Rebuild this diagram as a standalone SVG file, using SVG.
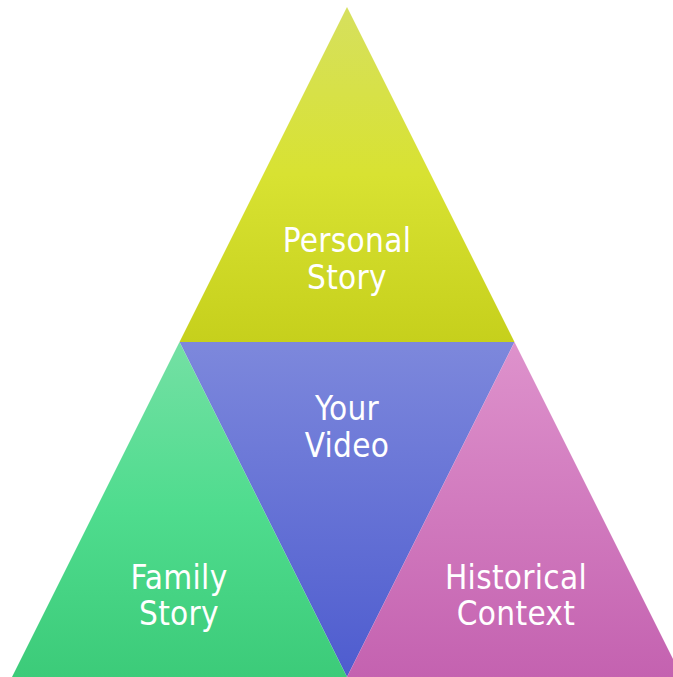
<svg xmlns="http://www.w3.org/2000/svg" width="673" height="677" viewBox="0 0 673 677">
<style>
.lbl{font-family:"DejaVu Sans Condensed","DejaVu Sans","Liberation Sans",sans-serif;font-stretch:condensed;font-size:33px;letter-spacing:0.3px;fill:#ffffff;text-anchor:middle}
</style>
<defs>
<linearGradient id="gTop" x1="0" y1="0" x2="0" y2="1"><stop offset="0" stop-color="#d6e05e"/><stop offset="0.5" stop-color="#d8e232"/><stop offset="1" stop-color="#c6d01c"/></linearGradient>
<linearGradient id="gMid" x1="0" y1="0" x2="0" y2="1"><stop offset="0" stop-color="#7d88dc"/><stop offset="1" stop-color="#4e5ccf"/></linearGradient>
<linearGradient id="gLeft" x1="0" y1="0" x2="0" y2="1"><stop offset="0" stop-color="#74e0a4"/><stop offset="0.5" stop-color="#4fdc8e"/><stop offset="1" stop-color="#3ccb79"/></linearGradient>
<linearGradient id="gRight" x1="0" y1="0" x2="0" y2="1"><stop offset="0" stop-color="#de92cc"/><stop offset="1" stop-color="#c462b0"/></linearGradient>
</defs>
<g id="personal-story">
<polygon points="347,7 514.5,342 179.5,342" fill="url(#gTop)"/>
<text class="lbl" x="347" y="252">Personal</text>
<text class="lbl" x="347" y="289">Story</text>
</g>
<g id="your-video">
<polygon points="179.5,342 514.5,342 347,677" fill="url(#gMid)"/>
<text class="lbl" x="347" y="420">Your</text>
<text class="lbl" x="347" y="457">Video</text>
</g>
<g id="family-story">
<polygon points="179.5,342 347,677 12,677" fill="url(#gLeft)"/>
<text class="lbl" x="179" y="589">Family</text>
<text class="lbl" x="179" y="625">Story</text>
</g>
<g id="historical-context">
<polygon points="514.5,342 682,677 347,677" fill="url(#gRight)"/>
<text class="lbl" x="516" y="589">Historical</text>
<text class="lbl" x="516" y="625">Context</text>
</g>
<g id="connectors"/>
</svg>
